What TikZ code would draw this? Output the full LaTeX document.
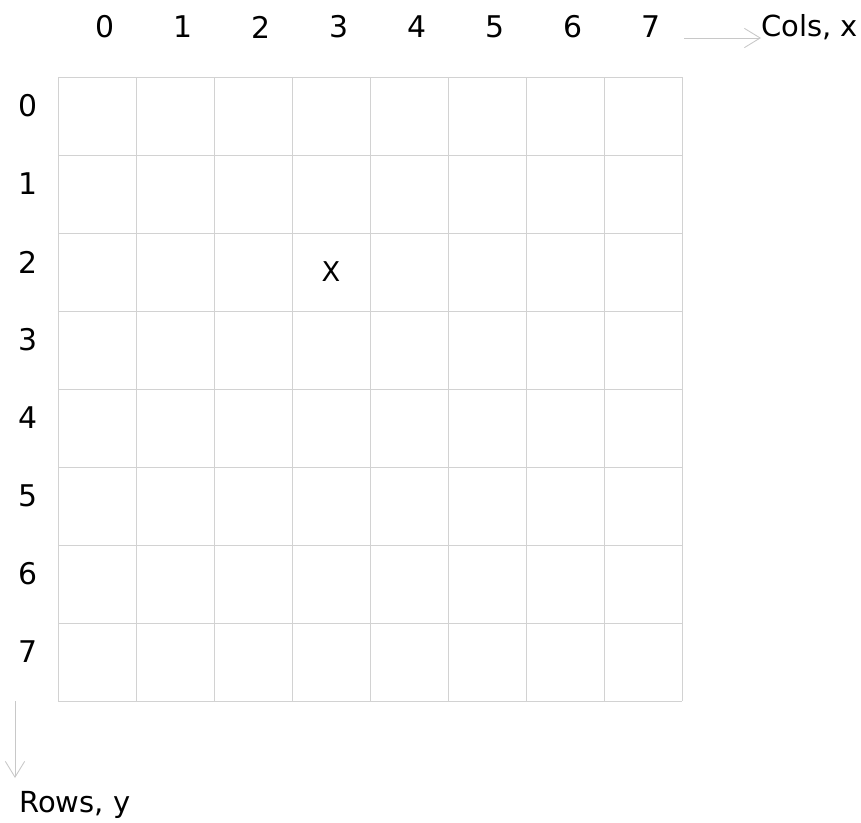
\documentclass[tikz,border=0pt]{standalone}
\usepackage{fontspec}
\setmainfont{DejaVu Sans}
\usetikzlibrary{arrows.meta, positioning}
\definecolor{gridGray}{HTML}{D2D2D2}
\definecolor{axisGray}{HTML}{C8C8C8}

\begin{document}
\begin{tikzpicture}[
  x=0.02cm, y=-0.02cm,
  font=\fontsize{17}{20}\selectfont,
  cellline/.style={draw=gridGray, line width=0.5pt},
  axis/.style={draw=axisGray, line width=0.5pt,
               -{Straight Barb[length=9pt, width=11pt, line width=0.5pt]}},
  idx/.style={inner sep=0pt, anchor=center},
  axislabel/.style={inner sep=0pt, font=\fontsize{16.5}{19}\selectfont},
  cellmark/.style={inner sep=0pt, font=\fontsize{15.5}{18}\selectfont}
]
\useasboundingbox (0,0) rectangle (861,822);

% grid of 8 x 8 cells
\foreach \i in {0,...,8} {
  \draw[cellline] (58+78*\i,77) -- (58+78*\i,701);
  \draw[cellline] (58,77+78*\i) -- (682,77+78*\i);
}

% column and row indices
\foreach \i in {0,...,7} {
  \node[idx] (col\i) at (105+78*\i,27) {\i};
  \node[idx] (row\i) at (28,106+78*\i) {\i};
}

% marked cell
\node[cellmark] (cell) at (331,272) {X};

% axes
\coordinate (colsStart) at (684,38);
\coordinate (colsEnd) at (761,38);
\coordinate (rowsStart) at (15,701);
\coordinate (rowsEnd) at (15,778);
\draw[axis] (colsStart) -- (colsEnd);
\draw[axis] (rowsStart) -- (rowsEnd);

\node[axislabel, anchor=west] (colsLabel) at (761,27) {Cols, x};
\node[axislabel, anchor=west] (rowsLabel) at (19,805) {Rows, y};
\end{tikzpicture}
\end{document}
